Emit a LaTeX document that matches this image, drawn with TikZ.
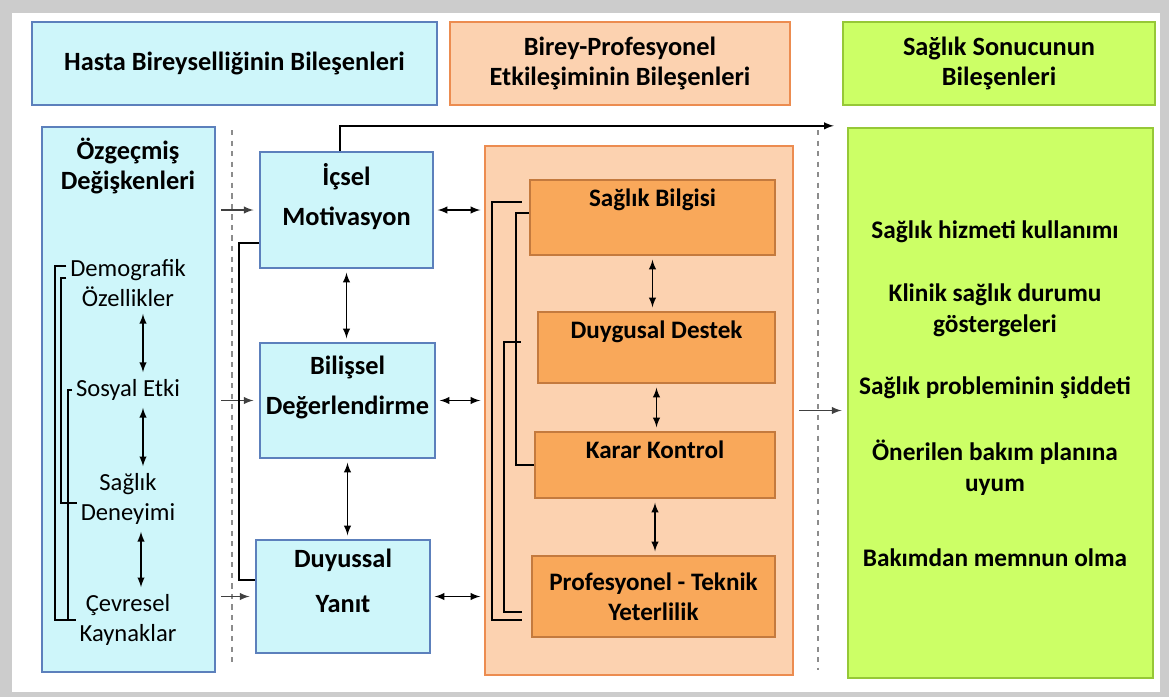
\documentclass[tikz,border=0pt]{standalone}
\usepackage{fontspec}
\setmainfont{Carlito}
\usetikzlibrary{positioning}

\begin{document}
\begin{tikzpicture}[x=0.02cm, y=-0.02cm]
    \tikzset{
        kasten/.style={rectangle, line width=1.4pt, align=center, font=\fontsize{15}{17.6}\selectfont\bfseries},
        hasta/.style={kasten, draw=Hasta_draw, fill=Hasta_fill},
        etkilesim/.style={kasten, draw=Etk_draw, fill=Etk_light},
        karar/.style={kasten, draw=Etk_darkdraw, fill=Etk_dark, font=\fontsize{14.3}{17}\selectfont\bfseries},
        sonuc/.style={kasten, draw=Sonuc_draw, fill=Sonuc_fill},
        hochText/.style={text depth=0.62cm},
        eintrag/.style={align=center, inner sep=2pt, font=\fontsize{14}{17}\selectfont},
        fett/.style={eintrag, font=\fontsize{14.4}{17.6}\selectfont\bfseries},
        pfeil/.style={-latex, line width=0.9pt},
        doppel/.style={latex-latex, line width=0.9pt, shorten <=2pt, shorten >=2pt},
        durch/.style={-latex, draw=black!75, line width=0.9pt, shorten <=3pt, shorten >=3pt},
        klammer/.style={line width=1.1pt}
    }

    % Farben
    \definecolor{Hasta_fill}{RGB}{206,246,250}
    \definecolor{Hasta_draw}{RGB}{92,128,188}
    \definecolor{Etk_light}{RGB}{252,210,176}
    \definecolor{Etk_draw}{RGB}{236,140,80}
    \definecolor{Etk_dark}{RGB}{249,168,90}
    \definecolor{Etk_darkdraw}{RGB}{196,122,62}
    \definecolor{Sonuc_fill}{RGB}{204,255,102}
    \definecolor{Sonuc_draw}{RGB}{150,200,55}

    % Rahmen
    \useasboundingbox (0,0) rectangle (1169,697);
    \fill[black!20] (0,0) rectangle (1169,697);
    \fill[white] (12,13) rectangle (1160,692);

    % Kopfzeilen
    \node[hasta, minimum width=8.1cm, minimum height=1.66cm] (headA) at (234.5,63.5) {Hasta Bireyselliğinin Bileşenleri};
    \node[etkilesim, minimum width=6.8cm, minimum height=1.66cm] (headB) at (620,63.5) {Birey-Profesyonel\\Etkileşiminin Bileşenleri};
    \node[sonuc, minimum width=6.24cm, minimum height=1.66cm] (headC) at (999,63.5) {Sağlık Sonucunun\\Bileşenleri};

    % Trennlinien (gestrichelt)
    \draw[dashed, black!45, line width=0.8pt] (232,130) -- (232,665);
    \draw[dashed, black!45, line width=0.8pt] (818,130) -- (818,670);

    % Özgeçmiş Değişkenleri
    \node[hasta, minimum width=3.46cm, minimum height=10.9cm] (history) at (128.5,399.5) {};
    \node[fett, font=\fontsize{15}{17.6}\selectfont\bfseries] (historyTitle) at (128,166) {Özgeçmiş\\Değişkenleri};
    \foreach \name/\y/\txt in {demo/283/{Demografik\\Özellikler}, sosyal/390/{Sosyal Etki}, deneyim/499/{Sağlık\\Deneyimi}, cevre/620/{Çevresel\\Kaynaklar}} {
        \node[eintrag] (\name) at (128,\y) {\txt};
    }

    % mittlere Spalte
    \node[hasta, hochText, minimum width=3.46cm, minimum height=2.32cm] (motiv) at (346.5,210) {İçsel\\[5pt]Motivasyon};
    \node[hasta, hochText, minimum width=3.42cm, minimum height=2.3cm] (bilis) at (347.5,400.5) {Bilişsel\\[5pt]Değerlendirme};
    \node[hasta, hochText, minimum width=3.48cm, minimum height=2.26cm] (duyus) at (343,596.5) {Duyussal\\[8pt]Yanıt};

    % Birey-Profesyonel Etkileşim
    \node[etkilesim, minimum width=6.16cm, minimum height=10.58cm] (interact) at (639,410.5) {};
    \node[karar, text depth=0.78cm, minimum width=4.9cm, minimum height=1.5cm] (bilgi) at (652.5,217.5) {Sağlık Bilgisi};
    \node[karar, text depth=0.72cm, minimum width=4.74cm, minimum height=1.42cm] (destek) at (656.5,347.5) {Duygusal Destek};
    \node[karar, text depth=0.62cm, minimum width=4.8cm, minimum height=1.32cm] (karar) at (655,465) {Karar Kontrol};
    \node[karar, minimum width=4.86cm, minimum height=1.62cm] (yeterlik) at (653.5,596.5) {Profesyonel - Teknik\\Yeterlilik};

    % Sağlık Sonucu
    \node[sonuc, minimum width=6.1cm, minimum height=11cm] (outcome) at (1000.5,403) {};
    \foreach \i/\y/\txt in {1/232/{Sağlık hizmeti kullanımı}, 2/310.5/{Klinik sağlık durumu\\göstergeleri}, 3/388/{Sağlık probleminin şiddeti}, 4/468/{Önerilen bakım planına\\uyum}, 5/558/{Bakımdan memnun olma}} {
        \node[fett] (out\i) at (995,\y) {\txt};
    }

    % Pfeile links
    \draw[doppel] ([xshift=0.3cm]demo.south) -- ([xshift=0.3cm]demo.south |- sosyal.north);
    \draw[doppel] ([xshift=0.3cm]sosyal.south) -- ([xshift=0.3cm]sosyal.south |- deneyim.north);
    \draw[doppel] ([xshift=0.26cm]deneyim.south) -- ([xshift=0.26cm]deneyim.south |- cevre.north);

    % Klammern links
    \draw[klammer] ([yshift=0.34cm]demo.west) -- ++(-11,0) |- (cevre.west);
    \draw[klammer] ([yshift=0.1cm]demo.west) -- ++(-5,0) |- ([yshift=-0.08cm]deneyim.west);
    \draw[klammer] (sosyal.west) -- ++(-4,0) |- (cevre.west);

    % Eingänge mittlere Spalte
    \foreach \ziel in {motiv, bilis, duyus} {
        \draw[durch] (history.east |- \ziel.west) -- (\ziel.west);
    }
    \draw[klammer] ([yshift=-0.66cm]motiv.west) -- ++(-20,0) |- ([yshift=0.33cm]duyus.west);
    \draw[doppel] (motiv.south) -- (motiv.south |- bilis.north);
    \draw[doppel] (bilis.south) -- (bilis.south |- duyus.north);

    % mittlere Spalte <-> Etkileşim
    \foreach \quelle in {motiv, bilis, duyus} {
        \draw[doppel] (\quelle.east) -- (interact.west |- \quelle.east);
    }

    % Etkileşim innen
    \draw[doppel] (bilgi.south) -- (bilgi.south |- destek.north);
    \draw[doppel] (destek.south) -- (destek.south |- karar.north);
    \draw[doppel] (karar.south) -- (karar.south |- yeterlik.north);
    \draw[klammer] ([xshift=-0.14cm, yshift=0.31cm]bilgi.west) -- ++(-30,0) |- ([xshift=-0.18cm, yshift=-0.47cm]yeterlik.west);
    \draw[klammer] ([yshift=0.09cm]bilgi.west) -- ++(-13,0) |- (karar.west);
    \draw[klammer] ([xshift=-0.32cm, yshift=0.11cm]destek.west) -- ++(-17,0) |- ([xshift=-0.18cm, yshift=-0.31cm]yeterlik.west);

    % Ausgänge
    \draw[durch] (interact.east) -- (outcome.west |- interact.east);
    \draw[pfeil] ([xshift=-0.13cm]motiv.north) |- ([xshift=-0.26cm, yshift=0.02cm]outcome.north west);

\end{tikzpicture}
\end{document}
